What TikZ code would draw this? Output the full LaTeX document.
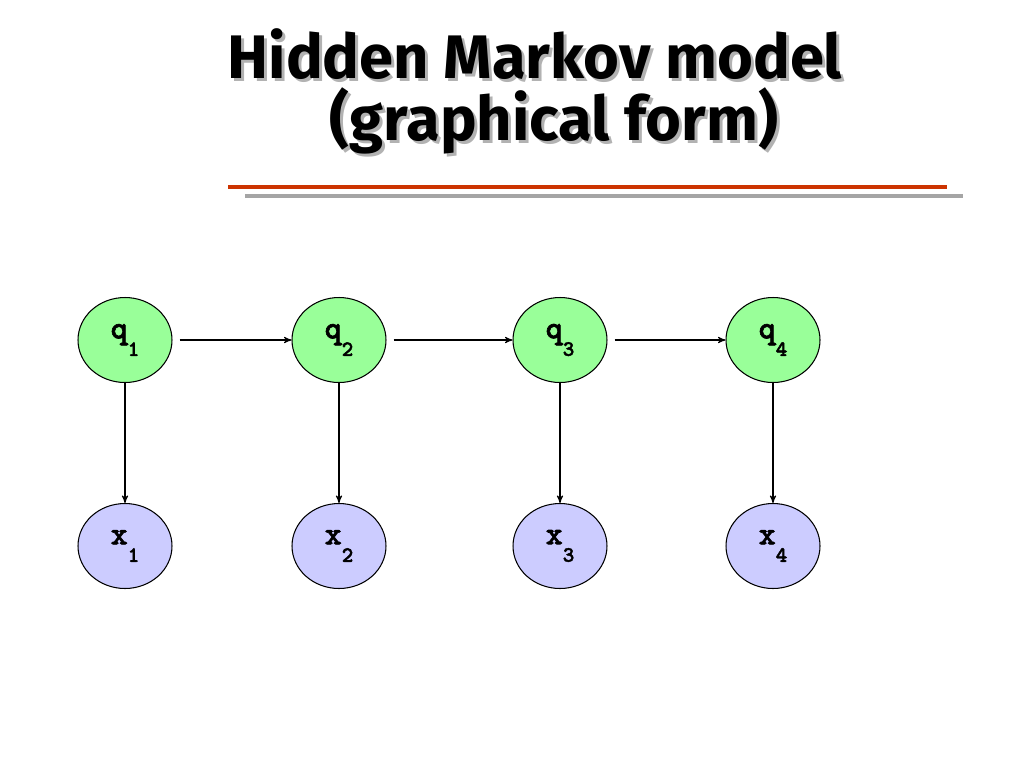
\documentclass[tikz,border=0pt]{standalone}
\usepackage{fontspec}
\setmainfont{Liberation Serif}
\newfontfamily\titlefont{Fira Sans}
\newfontfamily\labfont{lmmonolt10-bold.otf}[FakeBold=2]
\usetikzlibrary{shapes}
\usetikzlibrary{arrows}
\definecolor{etatvert}{RGB}{153,255,153}
\definecolor{obsbleu}{RGB}{204,204,255}
\definecolor{trait_rouge}{RGB}{204,51,0}
\definecolor{trait_gris}{RGB}{165,165,165}
\newcommand\hmmlab[2]{#1\raisebox{-10pt}{\fontsize{12.5}{12.5}\selectfont #2}}
\tikzset{
	hmmnode/.style = {ellipse, draw=black, inner sep=0pt, text centered,
		minimum width=1.88cm, minimum height=1.7cm,
		font=\labfont\fontsize{18.5}{18.5}\selectfont},
	hmm_q/.style = {hmmnode, fill=etatvert},% etat cache
	hmm_x/.style = {hmmnode, fill=obsbleu},% observation
	titre/.style = {inner sep=0pt, anchor=base,
		font=\titlefont\bfseries\fontsize{35}{40}\selectfont}
}
\begin{document}
\begin{tikzpicture}[x=0.02cm,y=-0.02cm,->,>=stealth',line width=0.6pt]
	\useasboundingbox[fill=white] (0,0) rectangle (1024,768);
	% titre avec ombre
	\node[titre, gray!60] at (538,81) {Hidden Markov model};
	\node[titre] (titre1) at (535,78) {Hidden Markov model};
	\node[titre, gray!60] at (557,143) {(graphical form)};
	\node[titre] (titre2) at (554,140) {(graphical form)};
	\draw[-, trait_rouge, line width=2.3pt] (228,187) -- (947,187);
	\draw[-, trait_gris, line width=1.8pt] (245,196) -- (963,196);
	% noeuds
	\foreach \i/\cx in {1/125,2/339,3/560,4/773}{
		\node[hmm_q] (q\i) at (\cx,340) {\hmmlab{q}{\i}};
		\node[hmm_x] (x\i) at (\cx,546) {\hmmlab{x}{\i}};
		\draw (q\i) -- (x\i);
	}
	\foreach \i/\j in {1/2,2/3,3/4}
		\draw[shorten <=4pt] (q\i) -- (q\j);
\end{tikzpicture}
\end{document}
